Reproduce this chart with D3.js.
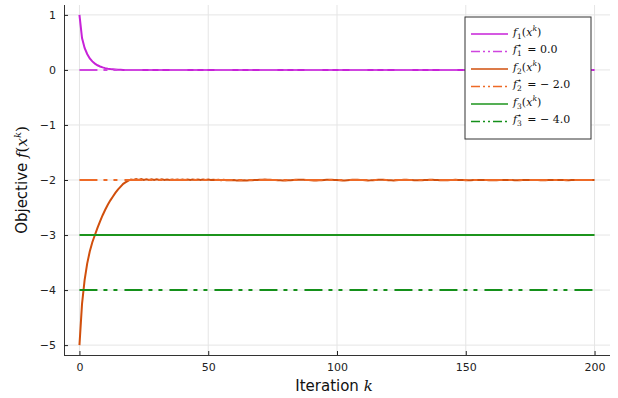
<!DOCTYPE html>
<html>
<head>
<meta charset="utf-8">
<script src="https://cdn.jsdelivr.net/npm/d3@7"></script>
<style>
body { margin:0; background:#fff; }
.tick text { font-family:"DejaVu Sans", sans-serif; font-size:11px; fill:#222; }
.label { font-family:"DejaVu Sans", sans-serif; font-size:15px; fill:#111; }
.math { font-family:"DejaVu Serif", serif; }
.leg { font-family:"DejaVu Serif", serif; font-size:11px; fill:#111; }
</style>
</head>
<body>
<svg id="chart"></svg>
<script>
// iterations where f1 changes, then flat to the end
var f1Iters = [0,1,2,3,4,5,6,7,8,9,10,11,12,13,14,15,16,17,18,19,20,200];
var f1Vals  = [1,0.58,0.4,0.29,0.21,0.155,0.115,0.085,0.063,0.046,0.033,0.023,0.016,0.011,0.007,0.004,0.002,0.001,0,0,0,0];

var f2Vals = [
 -5,-4.25,-3.82,-3.52,-3.3,-3.13,-3.0,-2.87,-2.75,-2.64,
 -2.54,-2.45,-2.37,-2.3,-2.23,-2.17,-2.12,-2.07,-2.04,-2.01,
 -1.99,-2.0,-1.985,-2.0,-1.985,-2.0,-1.987,-2.0,-1.987,-2.0,
 -1.988,-2.0,-1.988,-2.0,-1.99,-2.0,-1.99,-2.0,-1.99,-2.0,
 -1.99,-2.0,-1.992,-2.0,-1.992,-2.0,-1.992,-2.0,-1.993,-2.0,
 -1.993,-2.0,-1.994,-2.0,-1.995,-2.003,-1.996,-2.004,-1.998,-2.006,
 -2.0,-2.008,-2.004,-2.01,-2.006,-2.01,-2.004,-2.006,-2.0,-1.998,
 -1.995,-1.994,-1.992,-1.994,-1.995,-1.998,-2.0,-2.004,-2.006,-2.008,
 -2.008,-2.006,-2.003,-2.0,-1.997,-1.995,-1.994,-1.996,-1.998,-2.002,
 -2.005,-2.007,-2.008,-2.006,-2.003,-1.999,-1.996,-1.995,-1.996,-1.999,
 -2.002,-2.006,-2.008,-2.007,-2.004,-2.0,-1.997,-1.995,-1.996,-1.998,
 -2.002,-2.005,-2.007,-2.006,-2.003,-1.999,-1.996,-1.995,-1.997,-2.0,
 -2.004,-2.006,-2.007,-2.005,-2.002,-1.998,-1.996,-1.996,-1.998,-2.001,
 -2.004,-2.006,-2.006,-2.004,-2.001,-1.998,-1.997,-1.997,-1.999,-2.002,
 -2.004,-2.005,-2.005,-2.003,-2.0,-1.998,-1.997,-1.998,-2.0,-2.002,
 -2.004,-2.005,-2.004,-2.002,-1.999,-1.998,-1.998,-1.999,-2.001,-2.003,
 -2.004,-2.004,-2.003,-2.001,-1.999,-1.998,-1.998,-2.0,-2.002,-2.003,
 -2.004,-2.003,-2.002,-2.0,-1.999,-1.998,-1.999,-2.0,-2.002,-2.003,
 -2.003,-2.003,-2.001,-2.0,-1.999,-1.999,-1.999,-2.001,-2.002,-2.003,
 -2.003,-2.002,-2.001,-2.0,-1.999,-1.999,-2.0,-2.001,-2.002,-2.002,
 -2.002
];

var f3Iters = [0,200];
var f3Vals = [-3,-3];

var optimum = [0.0,-2.0,-4.0];   // f1*, f2*, f3*
var starIters = [0,200];

var xTicks = [0,50,100,150,200];
var yTicks = [1,0,-1,-2,-3,-4,-5];

var screen = {width:618,height:398};
var margins = {left:64,right:8,top:5,bottom:43};
var graph = {
    width:screen.width-margins.left-margins.right,
    height:screen.height-margins.top-margins.bottom
};

var colors = {
    f1:"#c722d8", f1s:"#cf45df",
    f2:"#d14f0c", f2s:"#ee6a26",
    f3:"#1c941c", f3s:"#14901a"
};
var dashDot = "18,6,4,6,4,7";

var svg = d3.select("#chart")
    .attr("width",screen.width)
    .attr("height",screen.height);

var xScale = d3.scaleLinear().domain([-6,206]).range([0,graph.width]);
var yScale = d3.scaleLinear().domain([-5.18,1.18]).range([graph.height,0]);

var plot = svg.append("g")
    .attr("transform","translate("+margins.left+","+margins.top+")");

// grid
plot.selectAll(".gx").data(xTicks).enter().append("line")
    .attr("x1",function(d){return xScale(d);})
    .attr("x2",function(d){return xScale(d);})
    .attr("y1",0).attr("y2",graph.height)
    .attr("stroke","#e5e5e5").attr("stroke-width",1);
plot.selectAll(".gy").data(yTicks).enter().append("line")
    .attr("y1",function(d){return yScale(d);})
    .attr("y2",function(d){return yScale(d);})
    .attr("x1",0).attr("x2",graph.width)
    .attr("stroke","#e5e5e5").attr("stroke-width",1);

var line = d3.line()
    .x(function(d){return xScale(d[0]);})
    .y(function(d){return yScale(d[1]);});

var zip = function(ks,vs){ return ks.map(function(k,i){return [k,vs[i]];}); };

var f1Data = zip(f1Iters,f1Vals);
var f2Data = f2Vals.map(function(v,i){return [i,v];});
var f3Data = zip(f3Iters,f3Vals);
var starData = function(v){ return starIters.map(function(k){return [k,v];}); };

var series = [
    {data:f1Data, color:colors.f1, dash:null},
    {data:starData(optimum[0]), color:colors.f1s, dash:dashDot},
    {data:f2Data, color:colors.f2, dash:null},
    {data:starData(optimum[1]), color:colors.f2s, dash:dashDot},
    {data:f3Data, color:colors.f3, dash:null},
    {data:starData(optimum[2]), color:colors.f3s, dash:dashDot}
];

series.forEach(function(s){
    plot.append("path")
        .datum(s.data)
        .attr("d",line)
        .attr("fill","none")
        .attr("stroke",s.color)
        .attr("stroke-width",2)
        .attr("stroke-dasharray",s.dash);
});

// axes
var xAxis = d3.axisBottom(xScale).tickValues(xTicks).tickSize(-4).tickPadding(8);
var yAxis = d3.axisLeft(yScale).tickValues(yTicks).tickSize(-4).tickPadding(8)
    .tickFormat(function(d){return d<0 ? "\u2212"+Math.abs(d) : d;});

var gx = plot.append("g")
    .attr("transform","translate(0,"+graph.height+")")
    .call(xAxis);
var gy = plot.append("g").call(yAxis);
[gx,gy].forEach(function(g){
    g.select(".domain").attr("stroke","#333").attr("stroke-width",1);
    g.selectAll(".tick line").attr("stroke","#222");
});
gx.select(".domain").attr("d","M0,0.5H"+graph.width);
gy.select(".domain").attr("d","M0.5,"+graph.height+"V0");

// axis labels
var xl = svg.append("text").attr("class","label")
    .attr("text-anchor","middle")
    .attr("x",margins.left+graph.width/2 - 3)
    .attr("y",391);
xl.append("tspan").text("Iteration ");
xl.append("tspan").attr("class","math").attr("font-style","italic").text("k");

var yl = svg.append("text").attr("class","label")
    .attr("text-anchor","middle")
    .attr("transform","translate(27,"+(margins.top+graph.height/2)+") rotate(-90)");
yl.append("tspan").text("Objective ");
yl.append("tspan").attr("class","math").attr("font-style","italic").text("f");
yl.append("tspan").attr("class","math").text("(");
yl.append("tspan").attr("class","math").attr("font-style","italic").text("x");
yl.append("tspan").attr("class","math").attr("font-style","italic").attr("font-size","10px").attr("dy",-6).text("k");
yl.append("tspan").attr("class","math").attr("dy",6).text(")");

// legend
var legend = svg.append("g").attr("transform","translate(465,17)");
legend.append("rect")
    .attr("x",0).attr("y",0).attr("width",126).attr("height",122)
    .attr("fill","#fff").attr("stroke","#333").attr("stroke-width",1);

var legNames = [
    {i:"1", star:false},
    {i:"1", star:true, v:optimum[0]},
    {i:"2", star:false},
    {i:"2", star:true, v:optimum[1]},
    {i:"3", star:false},
    {i:"3", star:true, v:optimum[2]}
];

legNames.forEach(function(n,j){
    var yy = 17 + j*17.5;
    legend.append("line")
        .attr("x1",6).attr("x2",43)
        .attr("y1",yy).attr("y2",yy)
        .attr("stroke",series[j].color)
        .attr("stroke-width",1.5)
        .attr("stroke-dasharray",series[j].dash ? "9,3,2,3,2,3" : null);
    var t = legend.append("text").attr("class","leg")
        .attr("x",48).attr("y",yy+1.5);
    t.append("tspan").attr("font-style","italic").text("f");
    t.append("tspan").attr("font-size","7.5px").attr("dy",3).text(n.i);
    if(n.star){
        t.append("tspan").attr("font-size","7.5px").attr("dx",-4.5).attr("dy",-8.5).text("\u22C6");
        var val = n.v===0 ? "0.0" : "\u2212 "+Math.abs(n.v).toFixed(1);
        t.append("tspan").attr("dx",5).attr("dy",5.5).text("= "+val);
    } else {
        t.append("tspan").attr("dy",-3).text("(");
        t.append("tspan").attr("font-style","italic").text("x");
        t.append("tspan").attr("font-style","italic").attr("font-size","7.5px").attr("dy",-4.5).text("k");
        t.append("tspan").attr("dy",4.5).text(")");
    }
});
</script>
</body>
</html>
